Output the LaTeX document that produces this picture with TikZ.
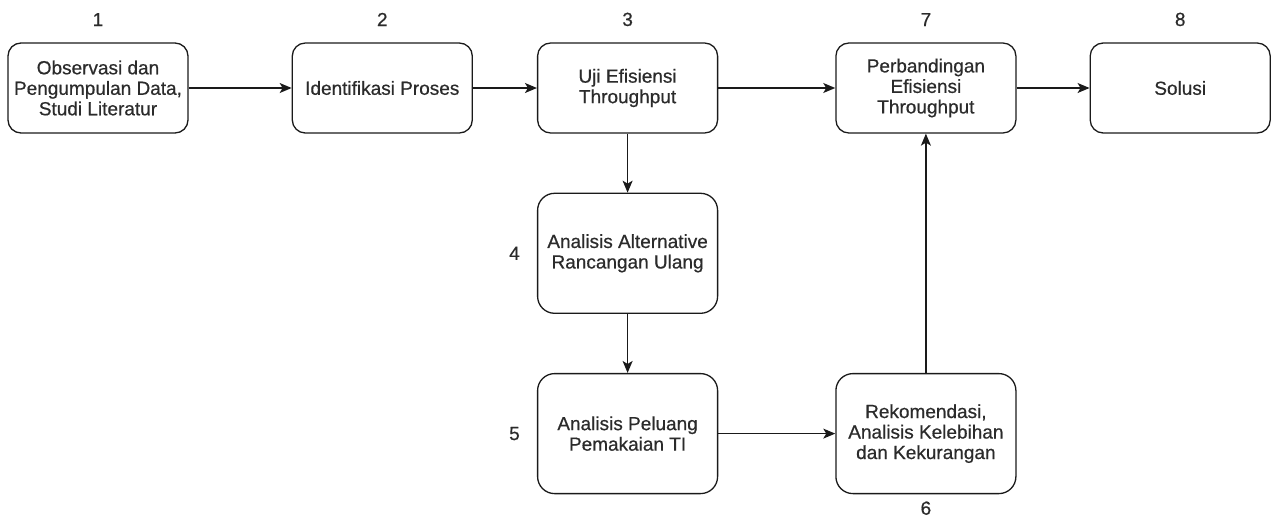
\documentclass[tikz,border=0pt]{standalone}
\usepackage{fontspec}
\setmainfont{Liberation Sans}[FakeBold=0.6]
\usepackage{tikz}
\usetikzlibrary{positioning,arrows.meta}
\usepackage{xcolor}
\definecolor{inkline}{HTML}{1A1A1A}
\definecolor{inktext}{HTML}{2B2B2B}

\begin{document}
\begin{tikzpicture}[x=1pt, y=-1pt,
      every node/.style={font=\fontsize{19}{20.5}\selectfont, text=inktext},
      stage/.style={draw=inkline, line width=1.3pt, rounded corners=13pt,
        minimum width=180pt, minimum height=90pt, align=center, inner sep=2pt},
      tall/.style={stage, rounded corners=17pt, minimum height=120pt},
      num/.style={inner sep=0pt},
      flow/.style={draw=inkline, line width=1.3pt,
        -{Stealth[length=12pt, width=10pt, inset=3pt]}}
    ]
      \useasboundingbox (0,0) rectangle (1271,520);
      \node[stage] (obs) at (98,88) {Observasi dan\\Pengumpulan Data,\\Studi Literatur};
      \node[stage, right=103pt of obs] (ident) {Identifikasi Proses};
      \node[stage, right=64pt of ident] (uji) {Uji Efisiensi\\Throughput};
      \node[stage, right=117pt of uji] (banding) {Perbandingan\\Efisiensi\\Throughput};
      \node[stage, right=73pt of banding] (solusi) {Solusi};
      \node[tall, below=59pt of uji] (alt) {Analisis Alternative\\Rancangan Ulang};
      \node[tall, below=59pt of alt] (peluang) {Analisis Peluang\\Pemakaian TI};
      \node[tall, right=117pt of peluang] (rekom) {Rekomendasi,\\Analisis Kelebihan\\dan Kekurangan};

      \node[num, above=16pt of obs] (n1) {1};
      \node[num, above=16pt of ident] (n2) {2};
      \node[num, above=16pt of uji] (n3) {3};
      \node[num, left=17pt of alt] (n4) {4};
      \node[num, left=17pt of peluang] (n5) {5};
      \node[num, below=7pt of rekom] (n6) {6};
      \node[num, above=16pt of banding] (n7) {7};
      \node[num, above=16pt of solusi] (n8) {8};

      \draw[flow] (obs) -- (ident);
      \draw[flow] (ident) -- (uji);
      \draw[flow] (uji) -- (banding);
      \draw[flow] (banding) -- (solusi);
      \draw[flow] (uji) -- (alt);
      \draw[flow] (alt) -- (peluang);
      \draw[flow] (peluang) -- (rekom);
      \draw[flow] (rekom) -- (banding);
    \end{tikzpicture}
\end{document}
